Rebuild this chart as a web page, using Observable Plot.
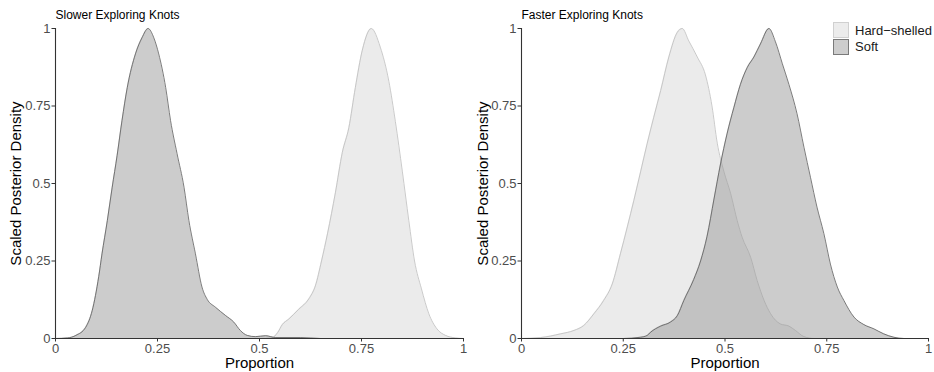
<!DOCTYPE html>
<html>
<head>
<meta charset="utf-8">
<script src="https://cdn.jsdelivr.net/npm/d3@7"></script>
<script src="https://cdn.jsdelivr.net/npm/@observablehq/plot@0.6"></script>
<style>
  body { margin: 0; background: #fff; }
  #wrap { position: relative; width: 934px; height: 372px; display: flex; font-family: "Liberation Sans", Arial, sans-serif; }
  #wrap svg g[aria-label$="tick label"] { font-size: 13px; }
  #legend { position: absolute; left: 833px; top: 22px; font-size: 13px; color: #1a1a1a; }
  #legend .row { display: flex; align-items: center; height: 16px; margin-bottom: 0.5px; }
  #legend .sw { width: 14px; height: 14px; margin-right: 6px; box-sizing: content-box; }
</style>
</head>
<body>
<div id="wrap"></div>
<script>
// Scaled posterior densities, [proportion, density] pairs
const slowerHard = [[0,0],[0.5,0],[0.53,0.002],[0.545,0.02],[0.556,0.045],[0.572,0.063],[0.596,0.094],[0.621,0.128],[0.637,0.17],[0.652,0.25],[0.667,0.34],[0.686,0.47],[0.703,0.6],[0.719,0.68],[0.735,0.81],[0.752,0.93],[0.774,1],[0.796,0.94],[0.817,0.83],[0.833,0.7],[0.85,0.54],[0.866,0.38],[0.88,0.25],[0.897,0.16],[0.915,0.08],[0.935,0.031],[0.956,0.01],[0.98,0.002],[1,0]];
const slowerSoft = [[0,0],[0.03,0.002],[0.05,0.01],[0.074,0.036],[0.09,0.09],[0.106,0.2],[0.114,0.273],[0.127,0.38],[0.139,0.488],[0.151,0.59],[0.163,0.703],[0.176,0.81],[0.196,0.918],[0.212,0.97],[0.227,1],[0.241,0.97],[0.253,0.918],[0.27,0.81],[0.282,0.703],[0.298,0.596],[0.315,0.488],[0.327,0.38],[0.343,0.273],[0.359,0.166],[0.372,0.126],[0.392,0.101],[0.417,0.074],[0.437,0.053],[0.453,0.026],[0.47,0.01],[0.49,0.006],[0.515,0.009],[0.54,0.003],[0.6,0.003],[0.65,0],[1,0]];
const fasterHard = [[0,0],[0.047,0.003],[0.096,0.015],[0.129,0.026],[0.153,0.042],[0.178,0.08],[0.202,0.123],[0.223,0.176],[0.243,0.273],[0.26,0.36],[0.276,0.445],[0.293,0.54],[0.309,0.63],[0.325,0.714],[0.342,0.8],[0.362,0.908],[0.383,0.988],[0.395,1],[0.411,0.96],[0.432,0.908],[0.452,0.85],[0.468,0.75],[0.481,0.63],[0.497,0.54],[0.514,0.467],[0.53,0.38],[0.542,0.327],[0.563,0.262],[0.579,0.187],[0.596,0.123],[0.612,0.08],[0.636,0.047],[0.657,0.04],[0.673,0.026],[0.694,0.006],[0.72,0],[1,0]];
const fasterSoft = [[0,0],[0.25,0],[0.292,0.004],[0.309,0.01],[0.317,0.02],[0.342,0.04],[0.366,0.053],[0.383,0.074],[0.399,0.123],[0.423,0.19],[0.44,0.25],[0.456,0.33],[0.473,0.45],[0.489,0.563],[0.505,0.66],[0.522,0.746],[0.538,0.82],[0.555,0.875],[0.571,0.908],[0.587,0.95],[0.608,1],[0.624,0.957],[0.641,0.886],[0.657,0.82],[0.677,0.725],[0.694,0.617],[0.71,0.52],[0.726,0.424],[0.743,0.338],[0.759,0.24],[0.776,0.166],[0.792,0.123],[0.817,0.069],[0.841,0.045],[0.866,0.031],[0.89,0.015],[0.915,0.004],[0.94,0],[1,0]];

const panelTitles = ["Slower Exploring Knots", "Faster Exploring Knots"];
const groups = ["Hard\u2212shelled", "Soft"];
const tickValues = [0, 0.25, 0.5, 0.75, 1];
const xTitle = "Proportion";
const yTitle = "Scaled Posterior Density";

const fills = {hard: "#d8d8d8", soft: "#9a9a9a"};
const strokes = {hard: "#bdbdbd", soft: "#5a5a5a"};
const font = "'Liberation Sans', Arial, sans-serif";

function panel(title, hard, soft, marginLeft, marginRight) {
  const curve = "monotone-x";
  const density = (data, key) => [
    Plot.areaY(data, {x: d => d[0], y: d => d[1], fill: fills[key], fillOpacity: 0.5, curve}),
    Plot.lineY(data, {x: d => d[0], y: d => d[1], stroke: strokes[key], strokeWidth: 0.8, curve})
  ];
  return Plot.plot({
    width: 467,
    height: 372,
    marginLeft,
    marginRight,
    marginTop: 28,
    marginBottom: 34,
    style: {fontFamily: font, fontSize: "13px", background: "transparent", overflow: "visible"},
    x: {domain: [0, 1]},
    y: {domain: [0, 1]},
    marks: [
      ...density(hard, "hard"),
      ...density(soft, "soft"),
      Plot.ruleX([0], {stroke: "#333", strokeWidth: 1.1}),
      Plot.ruleY([0], {stroke: "#333", strokeWidth: 1.1}),
      Plot.axisX({ticks: tickValues, tickFormat: d => String(d), tickSize: 3.5, tickPadding: 1.5,
                  stroke: "#333", fill: "#4d4d4d", fontSize: 13, label: null}),
      Plot.axisY({ticks: tickValues, tickFormat: d => String(d), tickSize: 3.5, tickPadding: 1.5,
                  stroke: "#333", fill: "#4d4d4d", fontSize: 13, label: null}),
      Plot.text([title], {frameAnchor: "top-left", textAnchor: "start", lineAnchor: "bottom",
                          dy: -10, fontSize: 12, fill: "#000"}),
      Plot.text([xTitle], {frameAnchor: "bottom", lineAnchor: "middle", dy: 25, fontSize: 15, fill: "#000"}),
      Plot.text([yTitle], {frameAnchor: "left", rotate: -90, textAnchor: "middle", lineAnchor: "middle",
                           dx: -(marginLeft - 16), fontSize: 15, fill: "#000"})
    ]
  });
}

const wrap = document.getElementById("wrap");
wrap.append(panel(panelTitles[0], slowerHard, slowerSoft, 55, 4));
wrap.append(panel(panelTitles[1], fasterHard, fasterSoft, 54, 6));

// legend
const legend = document.createElement("div");
legend.id = "legend";
const swatchStyle = [
  {bg: "#ececec", border: "#d0d0d0"},
  {bg: "#cdcdcd", border: "#7a7a7a"}
];
groups.forEach((g, i) => {
  const row = document.createElement("div");
  row.className = "row";
  const sw = document.createElement("div");
  sw.className = "sw";
  sw.style.background = swatchStyle[i].bg;
  sw.style.border = `1px solid ${swatchStyle[i].border}`;
  const label = document.createElement("span");
  label.textContent = g;
  row.append(sw, label);
  legend.append(row);
});
wrap.append(legend);
</script>
</body>
</html>
